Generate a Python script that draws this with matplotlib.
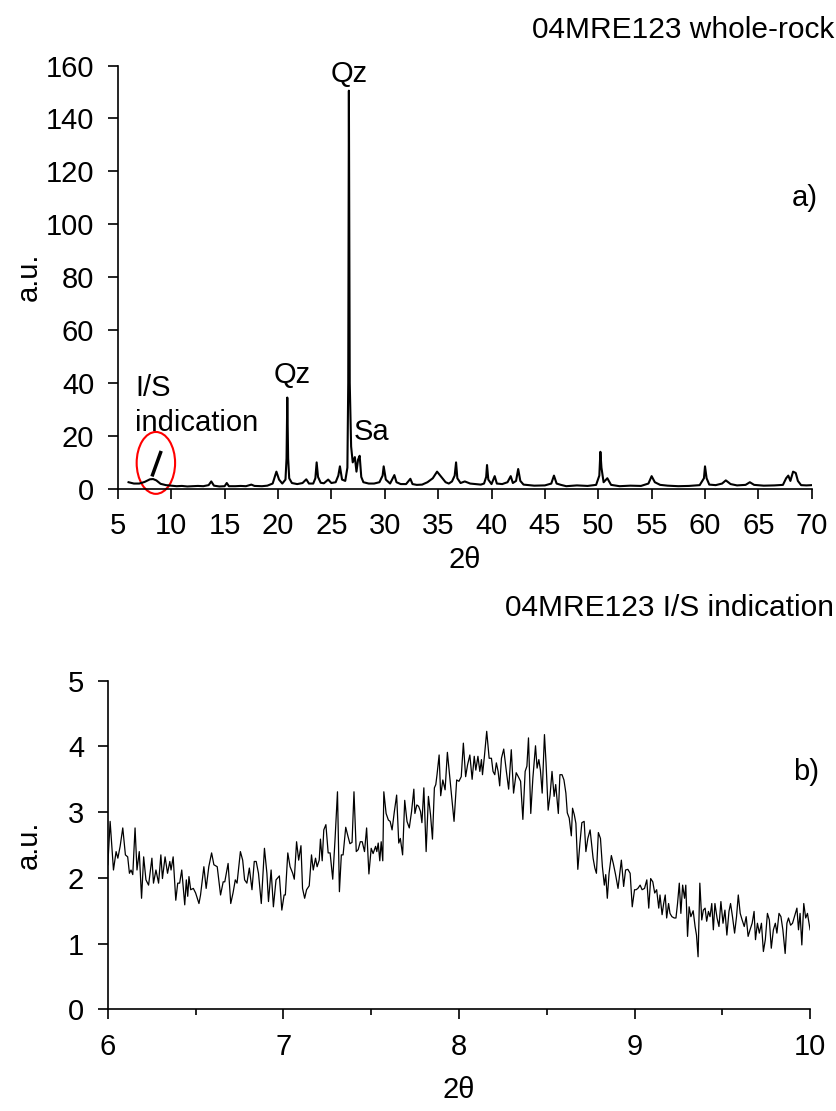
import numpy as np
import matplotlib.pyplot as plt
from matplotlib.patches import Ellipse

plt.rcParams['font.family'] = ['Liberation Sans', 'DejaVu Sans']
plt.rcParams['font.size'] = 21

# ---- panel a) whole-rock pattern (2theta, a.u.)
a_theta = [6.0, 6.5, 7.0, 7.5, 8.0, 8.3, 8.6, 9.0, 9.5, 10.0, 10.5, 11.0, 11.5, 12.0,
           12.5, 13.0, 13.5, 13.75, 14.0, 14.5, 15.0, 15.2, 15.4, 16.0, 16.5, 17.0,
           17.5, 17.8, 18.5, 19.0, 19.5, 19.85, 20.1, 20.4, 20.7, 20.8, 20.87, 20.95,
           21.05, 21.3, 21.8, 22.3, 22.65, 22.9, 23.3, 23.5, 23.62, 23.75, 24.0, 24.3,
           24.7, 25.0, 25.4, 25.65, 25.8, 26.0, 26.3, 26.5, 26.58, 26.64, 26.72, 26.85,
           27.0, 27.2, 27.35, 27.5, 27.65, 27.8, 28.0, 28.5, 29.0, 29.5, 29.8, 29.9,
           30.1, 30.5, 30.9, 31.1, 31.5, 32.0, 32.4, 32.6, 33.0, 33.5, 34.0, 34.5,
           34.9, 35.3, 35.7, 36.0, 36.3, 36.55, 36.68, 36.8, 37.1, 37.5, 38.0, 38.5,
           39.0, 39.3, 39.5, 39.58, 39.7, 40.0, 40.3, 40.5, 41.0, 41.5, 41.8, 42.0,
           42.3, 42.5, 42.7, 43.0, 44.0, 45.0, 45.6, 45.85, 46.1, 46.5, 47.0, 48.0,
           49.0, 49.8, 50.1, 50.2, 50.3, 50.5, 50.85, 51.2, 52.0, 53.0, 54.0, 54.7,
           55.0, 55.3, 55.8, 56.5, 57.5, 58.5, 59.5, 59.9, 60.0, 60.15, 60.4, 61.0,
           61.6, 61.95, 62.4, 63.0, 63.8, 64.2, 64.6, 65.5, 66.5, 67.3, 67.6, 67.8,
           68.0, 68.25, 68.5, 68.7, 69.0, 69.5, 70.0]
a_counts = [2.5, 2.0, 2.0, 2.6, 3.6, 3.7, 3.2, 1.9, 1.4, 1.2, 1.0, 1.1, 0.9, 1.0,
            1.1, 1.0, 1.4, 2.8, 1.2, 0.9, 1.0, 2.2, 1.0, 1.0, 1.1, 1.0,
            1.6, 1.1, 1.0, 1.2, 2.0, 6.5, 3.5, 2.0, 3.5, 11.5, 34.5, 11.5,
            4.0, 2.2, 1.8, 2.2, 3.6, 2.0, 2.0, 4.0, 10.0, 4.5, 2.3, 2.1,
            3.5, 2.2, 2.5, 5.0, 8.5, 3.5, 3.0, 8.0, 40.0, 150.5, 40.0, 16.0,
            10.0, 12.0, 6.5, 11.0, 12.5, 4.5, 2.5, 2.0, 2.0, 2.5, 5.0, 8.5,
            3.5, 2.0, 5.2, 2.5, 1.8, 1.8, 3.8, 1.8, 1.5, 1.6, 2.5, 4.0,
            6.5, 4.5, 2.5, 2.0, 2.8, 5.0, 10.0, 4.0, 2.2, 2.8, 2.0, 1.8,
            1.6, 2.0, 4.5, 9.0, 3.5, 1.8, 4.8, 2.0, 1.8, 2.5, 4.8, 2.2,
            3.0, 7.5, 3.0, 1.6, 1.2, 1.3, 2.0, 5.0, 2.0, 1.5, 1.0, 1.3,
            1.1, 1.5, 5.0, 14.0, 8.0, 2.5, 4.0, 1.5, 1.0, 1.2, 1.1, 2.0,
            4.8, 2.5, 1.5, 1.2, 1.0, 1.1, 1.4, 4.0, 8.5, 4.0, 1.6, 1.4,
            2.0, 3.2, 1.8, 1.3, 1.5, 2.5, 1.5, 1.2, 1.3, 1.5, 4.0, 5.0,
            3.0, 6.5, 6.0, 3.0, 1.4, 1.3, 1.4]

# ---- panel b) I/S indication detail
b_theta = [6.000, 6.013, 6.032, 6.047, 6.057, 6.070, 6.085, 6.100, 6.113, 6.123,
           6.132, 6.142, 6.155, 6.166, 6.179, 6.192, 6.204, 6.217, 6.232, 6.251,
           6.260, 6.274, 6.289, 6.302, 6.311, 6.326, 6.340, 6.353, 6.360, 6.372,
           6.387, 6.398, 6.409, 6.421, 6.438, 6.447, 6.455, 6.462, 6.472, 6.487,
           6.500, 6.519, 6.528, 6.547, 6.560, 6.575, 6.591, 6.604, 6.623, 6.642,
           6.657, 6.666, 6.685, 6.700, 6.713, 6.726, 6.736, 6.755, 6.768, 6.779,
           6.792, 6.806, 6.821, 6.834, 6.845, 6.858, 6.874, 6.892, 6.906, 6.915,
           6.930, 6.943, 6.958, 6.977, 6.991, 7.004, 7.011, 7.025, 7.038, 7.053,
           7.062, 7.075, 7.087, 7.100, 7.109, 7.121, 7.132, 7.147, 7.160, 7.170,
           7.183, 7.192, 7.204, 7.211, 7.221, 7.230, 7.242, 7.255, 7.266, 7.281,
           7.294, 7.308, 7.319, 7.330, 7.340, 7.355, 7.368, 7.379, 7.391, 7.402,
           7.415, 7.426, 7.438, 7.449, 7.462, 7.474, 7.487, 7.500, 7.511, 7.525,
           7.532, 7.540, 7.549, 7.557, 7.566, 7.572, 7.585, 7.598, 7.608, 7.619,
           7.632, 7.645, 7.657, 7.666, 7.679, 7.691, 7.704, 7.717, 7.730, 7.743,
           7.749, 7.760, 7.770, 7.781, 7.789, 7.800, 7.813, 7.826, 7.838, 7.849,
           7.860, 7.868, 7.875, 7.887, 7.896, 7.908, 7.921, 7.934, 7.972, 7.987,
           8.000, 8.013, 8.025, 8.038, 8.049, 8.062, 8.075, 8.087, 8.096, 8.108,
           8.119, 8.128, 8.134, 8.145, 8.158, 8.172, 8.185, 8.194, 8.204, 8.213,
           8.223, 8.232, 8.242, 8.255, 8.270, 8.283, 8.298, 8.311, 8.326, 8.338,
           8.351, 8.364, 8.377, 8.387, 8.396, 8.409, 8.421, 8.436, 8.445, 8.455,
           8.464, 8.474, 8.487, 8.496, 8.508, 8.519, 8.530, 8.542, 8.551, 8.558,
           8.566, 8.575, 8.587, 8.598, 8.609, 8.617, 8.628, 8.640, 8.647, 8.657,
           8.666, 8.677, 8.689, 8.700, 8.713, 8.723, 8.734, 8.747, 8.757, 8.764,
           8.774, 8.783, 8.794, 8.806, 8.817, 8.828, 8.836, 8.845, 8.855, 8.868,
           8.879, 8.892, 8.906, 8.925, 8.938, 8.949, 8.962, 8.975, 8.987, 9.000,
           9.009, 9.019, 9.032, 9.043, 9.057, 9.070, 9.081, 9.092, 9.104, 9.115,
           9.126, 9.138, 9.145, 9.157, 9.166, 9.175, 9.183, 9.194, 9.202, 9.213,
           9.226, 9.236, 9.245, 9.255, 9.264, 9.274, 9.285, 9.292, 9.302, 9.311,
           9.321, 9.334, 9.345, 9.353, 9.362, 9.372, 9.383, 9.392, 9.402, 9.411,
           9.421, 9.430, 9.440, 9.449, 9.458, 9.470, 9.481, 9.492, 9.504, 9.515,
           9.526, 9.538, 9.547, 9.558, 9.570, 9.581, 9.591, 9.602, 9.613, 9.625,
           9.636, 9.647, 9.658, 9.670, 9.681, 9.689, 9.700, 9.711, 9.723, 9.734,
           9.745, 9.757, 9.768, 9.779, 9.791, 9.802, 9.811, 9.823, 9.834, 9.845,
           9.858, 9.868, 9.877, 9.889, 9.900, 9.911, 9.925, 9.934, 9.943, 9.953,
           9.964, 9.975, 9.985, 10.000]
b_counts = [2.20, 2.86, 2.12, 2.40, 2.30, 2.48, 2.76, 2.35, 2.32, 2.07,
            2.12, 2.05, 2.76, 2.12, 2.40, 1.69, 2.32, 1.97, 1.89, 2.30,
            1.92, 2.12, 1.92, 2.35, 1.99, 2.32, 2.07, 2.25, 2.12, 2.32,
            1.66, 1.92, 1.92, 2.12, 1.59, 1.97, 1.72, 2.02, 1.82, 1.84,
            1.77, 1.61, 1.74, 2.17, 1.84, 2.17, 2.38, 2.20, 2.17, 1.74,
            1.94, 1.94, 2.22, 1.61, 1.77, 1.97, 1.92, 2.40, 2.27, 1.97,
            1.92, 2.15, 1.82, 2.25, 2.25, 2.07, 1.61, 2.45, 2.07, 1.64,
            2.12, 1.56, 1.97, 2.03, 1.51, 1.74, 1.74, 2.38, 2.17, 2.07,
            1.98, 2.55, 2.27, 2.49, 1.84, 1.69, 1.82, 1.88, 2.35, 2.12,
            2.30, 2.17, 2.27, 2.59, 2.26, 2.73, 2.81, 2.38, 2.38, 1.98,
            2.58, 3.31, 1.79, 2.35, 2.35, 2.77, 2.63, 2.52, 2.54, 3.31,
            2.40, 2.43, 2.55, 2.55, 2.40, 2.76, 2.06, 2.45, 2.37, 2.48,
            2.40, 2.53, 2.26, 2.55, 2.26, 3.31, 2.98, 2.88, 2.86, 2.73,
            3.01, 3.26, 2.53, 2.60, 2.35, 3.18, 2.86, 2.76, 3.01, 3.35,
            2.98, 3.11, 3.09, 3.01, 2.84, 3.37, 2.40, 3.24, 2.96, 2.59,
            3.37, 3.42, 3.57, 3.87, 3.25, 3.49, 3.34, 3.91, 2.86, 3.49,
            3.47, 3.54, 4.05, 3.54, 3.72, 3.87, 3.50, 3.85, 3.64, 3.85,
            3.62, 3.80, 3.57, 3.85, 4.23, 3.82, 3.82, 3.62, 3.57, 3.75,
            3.62, 3.40, 3.82, 3.96, 3.62, 3.35, 3.95, 3.29, 3.60, 3.54,
            3.47, 2.89, 3.62, 3.70, 4.13, 2.98, 3.52, 4.01, 3.67, 3.80,
            3.64, 3.29, 4.18, 3.75, 3.03, 3.26, 3.62, 3.24, 3.42, 3.21,
            2.98, 3.57, 3.57, 3.49, 3.29, 2.99, 2.91, 2.64, 3.06, 2.96,
            2.83, 2.13, 2.53, 2.84, 2.86, 2.40, 2.60, 2.73, 2.48, 2.30,
            2.15, 2.07, 2.69, 2.60, 2.17, 1.89, 2.05, 1.69, 2.07, 2.34,
            2.22, 2.05, 1.84, 2.27, 1.87, 2.12, 2.13, 2.07, 1.56, 1.82,
            1.82, 1.84, 1.89, 1.82, 1.84, 1.97, 1.54, 1.99, 1.94, 1.77,
            1.82, 1.54, 1.74, 1.44, 1.61, 1.74, 1.39, 1.61, 1.46, 1.41,
            1.39, 1.39, 1.61, 1.92, 1.46, 1.89, 1.69, 1.89, 1.11, 1.56,
            1.41, 1.50, 1.26, 1.13, 0.80, 1.92, 1.36, 1.51, 1.54, 1.34,
            1.49, 1.41, 1.61, 1.21, 1.61, 1.39, 1.26, 1.64, 1.31, 1.51,
            1.13, 1.49, 1.61, 1.41, 1.16, 1.41, 1.74, 1.46, 1.36, 1.26,
            1.41, 1.11, 1.21, 1.31, 1.49, 1.06, 1.31, 1.16, 1.31, 0.88,
            1.06, 1.46, 1.36, 0.93, 1.21, 1.31, 1.16, 1.46, 1.41, 1.21,
            0.85, 1.31, 1.39, 1.28, 1.31, 1.41, 1.54, 1.21, 1.46, 0.98,
            1.61, 1.39, 1.46, 1.21]

fig = plt.figure(figsize=(8.36, 11.11), dpi=100)
ax_a = fig.add_axes([0.141, 0.560, 0.830, 0.381])
ax_b = fig.add_axes([0.129, 0.0915, 0.840, 0.2958])

for ax in (ax_a, ax_b):
    ax.spines['top'].set_visible(False)
    ax.spines['right'].set_visible(False)
    for s in ('left', 'bottom'):
        ax.spines[s].set_linewidth(1.2)
    ax.tick_params(direction='out', length=7, width=1.2, pad=10)

# panel a
ax_a.plot(a_theta, a_counts, color='black', lw=1.5)
ax_a.set_xlim(5, 70)
ax_a.set_ylim(0, 160)
ax_a.set_xticks(range(5, 71, 5))
ax_a.set_yticks(range(0, 161, 20))
ax_a.set_xlabel('2θ', labelpad=4)
ax_a.set_ylabel('a.u.', labelpad=2)
ax_a.text(26.64, 151.5, 'Qz', ha='center', va='bottom')
ax_a.text(21.3, 43, 'Qz', ha='center', va='center')
ax_a.text(28.8, 21.5, 'Sa', ha='center', va='center')
ax_a.text(6.6, 31.5, 'I/S\nindication', ha='left', va='center', linespacing=1.35)
ax_a.add_patch(Ellipse((8.56, 9.8), 3.6, 23.4, fill=False, edgecolor='red',
                       lw=1.5, clip_on=False))
ax_a.plot([8.25, 9.0], [5.3, 13.7], color='black', lw=2.5)
fig.text(0.998, 1 - 30 / 1111, '04MRE123 whole-rock', ha='right', va='center',
         fontsize=21.5)
ax_a.text(0.99, 0.686, 'a)', transform=ax_a.transAxes, ha='center', va='center')

# panel b
ax_b.plot(b_theta, b_counts, color='black', lw=0.9)
ax_b.set_xlim(6, 10)
ax_b.set_ylim(0, 5)
ax_b.set_xticks([6, 7, 8, 9, 10])
ax_b.set_xticks([6.5, 7.5, 8.5, 9.5], minor=True)
ax_b.tick_params(axis='x', which='minor', direction='out', length=4, width=1.2)
ax_b.set_xlabel('2θ', labelpad=11)
ax_b.set_ylabel('a.u.', labelpad=18)
fig.text(0.998, 1 - 608 / 1111, '04MRE123 I/S indication', ha='right', va='center',
         fontsize=21.5)
ax_b.text(0.995, 0.723, 'b)', transform=ax_b.transAxes, ha='center', va='center')

fig.savefig('out.png', dpi=100)
